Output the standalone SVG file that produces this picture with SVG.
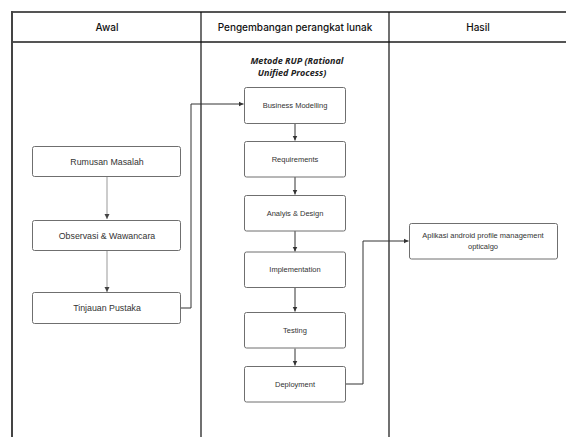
<svg xmlns="http://www.w3.org/2000/svg" width="566" height="437" viewBox="0 0 566 437">
<style>
.hdr{font-family:Inter,"Noto Sans",sans-serif;font-size:10px;font-weight:500;fill:#111;text-anchor:middle}
.box{fill:#fff;stroke:#6f6f6f;stroke-width:1}
.lt{font-family:"Liberation Sans",Arial,sans-serif;font-size:8.8px;fill:#333;text-anchor:middle}
.mt{font-family:"Liberation Sans",Arial,sans-serif;font-size:7.5px;fill:#333;text-anchor:middle}
.ttl{font-family:"Open Sans","Liberation Sans",sans-serif;font-size:9px;font-weight:bold;font-style:italic;fill:#222;text-anchor:middle}
.c1{fill:none;stroke:#999;stroke-width:1}
.c2{fill:none;stroke:#333;stroke-width:1}
</style>
<defs>
<marker id="ah" markerWidth="6" markerHeight="6" refX="5" refY="3" orient="auto" markerUnits="userSpaceOnUse">
<path d="M0,0.5 L5,3 L0,5.5 Z" fill="#333"/>
</marker>
<marker id="ahl" markerWidth="6" markerHeight="6" refX="5" refY="3" orient="auto" markerUnits="userSpaceOnUse">
<path d="M0,0.5 L5,3 L0,5.5 Z" fill="#444"/>
</marker>
</defs>
<rect width="566" height="437" fill="#fff"/>
<g id="table">
<line x1="12" y1="12" x2="566" y2="12" stroke="#555" stroke-width="2"/>
<line x1="12" y1="42" x2="566" y2="42" stroke="#555" stroke-width="2"/>
<line x1="12" y1="11" x2="12" y2="437" stroke="#444" stroke-width="2"/>
<line x1="201" y1="12" x2="201" y2="437" stroke="#111" stroke-width="1.2"/>
<line x1="389" y1="12" x2="389" y2="437" stroke="#111" stroke-width="1.2"/>
<text class="hdr" x="107" y="30.5">Awal</text>
<text class="hdr" x="295" y="30.5">Pengembangan perangkat lunak</text>
<text class="hdr" x="478" y="30.5">Hasil</text>
<text class="ttl" x="297" y="63.5">Metode RUP (Rational</text>
<text class="ttl" x="292" y="75.5">Unified  Process)</text>
</g>
<g id="connectors">
<line class="c1" x1="107" y1="177" x2="107" y2="219" marker-end="url(#ahl)"/>
<line class="c1" x1="107" y1="251" x2="107" y2="292" marker-end="url(#ahl)"/>
<polyline class="c2" points="181,308 191,308 191,104 243.5,104" marker-end="url(#ah)"/>
<line class="c2" x1="295" y1="123.5" x2="295" y2="140.5" marker-end="url(#ah)"/>
<line class="c2" x1="295" y1="177" x2="295" y2="194.5" marker-end="url(#ah)"/>
<line class="c2" x1="295" y1="231" x2="295" y2="251.5" marker-end="url(#ah)"/>
<line class="c2" x1="295" y1="288" x2="295" y2="311.5" marker-end="url(#ah)"/>
<line class="c2" x1="295" y1="348.5" x2="295" y2="365.5" marker-end="url(#ah)"/>
<polyline class="c2" points="346,384 363,384 363,241 408.5,241" marker-end="url(#ah)"/>
</g>
<g id="rumusan">
<rect class="box" x="32.5" y="146.5" width="148" height="30" rx="2"/>
<text class="lt" x="107" y="164.5">Rumusan Masalah</text>
</g>
<g id="observasi">
<rect class="box" x="32.5" y="220.5" width="148" height="30" rx="2"/>
<text class="lt" x="107" y="238.5">Observasi &amp; Wawancara</text>
</g>
<g id="tinjauan">
<rect class="box" x="32.5" y="292.5" width="148" height="31" rx="2"/>
<text class="lt" x="107" y="311">Tinjauan Pustaka</text>
</g>
<g id="business">
<rect class="box" x="244.5" y="87.5" width="101" height="36" rx="2"/>
<text class="mt" x="295" y="108">Business Modelling</text>
</g>
<g id="requirements">
<rect class="box" x="244.5" y="141.5" width="101" height="35.5" rx="2"/>
<text class="mt" x="295" y="161.5">Requirements</text>
</g>
<g id="analysis">
<rect class="box" x="244.5" y="195.5" width="101" height="35.5" rx="2"/>
<text class="mt" x="295" y="216">Analyis &amp; Design</text>
</g>
<g id="implementation">
<rect class="box" x="244.5" y="252" width="101" height="35.5" rx="2"/>
<text class="mt" x="295" y="272">Implementation</text>
</g>
<g id="testing">
<rect class="box" x="244.5" y="312.5" width="101" height="35.5" rx="2"/>
<text class="mt" x="295" y="333">Testing</text>
</g>
<g id="deployment">
<rect class="box" x="244.5" y="366.5" width="101" height="35.5" rx="2"/>
<text class="mt" x="295" y="387">Deployment</text>
</g>
<g id="aplikasi">
<rect class="box" x="409.5" y="223.5" width="148" height="35.5" rx="2"/>
<text class="mt" x="483" y="238">Aplikasi android profile management</text>
<text class="mt" x="483" y="249">opticalgo</text>
</g>
</svg>
